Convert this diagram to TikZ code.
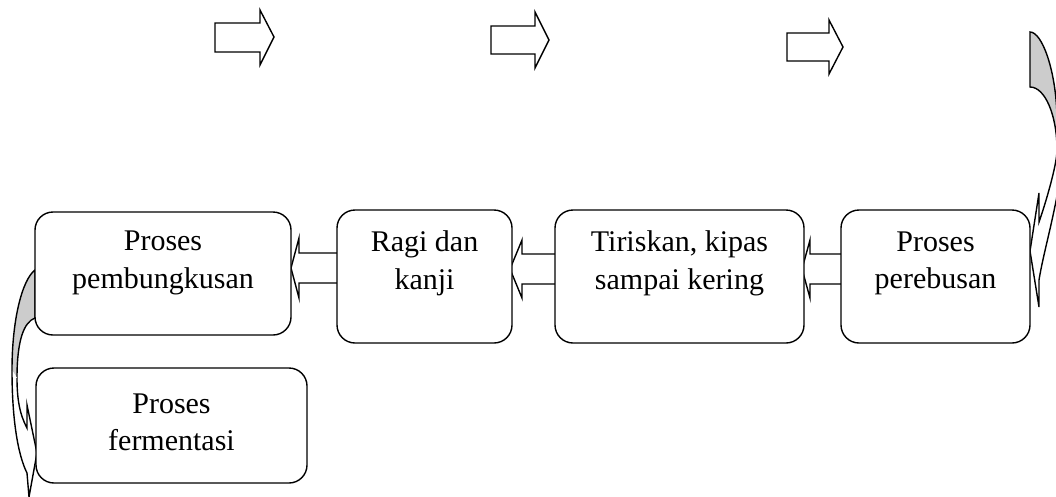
\documentclass[tikz,border=0pt]{standalone}
\usepackage{fontspec}
\setmainfont{Liberation Serif}
\pgfdeclarelayer{back}
\pgfsetlayers{back,main}
\definecolor{shade}{RGB}{204,204,204}
\begin{document}
\begin{tikzpicture}[x=1pt,y=-1pt,line width=1.4pt,
  box/.style={draw,line width=1.4pt,rounded corners=18pt,fill=white,inner sep=0pt},
  lbl/.style={align=center,inner sep=0pt,font=\fontsize{30}{37.5}\selectfont},
  blk/.style={draw,fill=white,line width=1.4pt,line join=miter},
  crvshade/.style={draw,fill=shade,line width=1.4pt,line join=miter}]
\useasboundingbox (0,0) rectangle (1056,496);
\clip (0,0) rectangle (1056,496);

% boxes
\node[box,minimum width=256pt,minimum height=123pt] (b1) at (163,273.5) {};
\node[box,minimum width=175pt,minimum height=133pt] (b2) at (424.5,276.5) {};
\node[box,minimum width=249pt,minimum height=133pt] (b3) at (679.5,276.5) {};
\node[box,minimum width=189pt,minimum height=133pt] (b4) at (935.5,276.5) {};
\node[box,minimum width=271pt,minimum height=115pt] (b5) at (171.5,425.5) {};

% texts
\node[lbl] (t1) at (163,263) {Proses\\pembungkusan};
\node[lbl] (t2) at (424.5,263.5) {Ragi dan\\kanji};
\node[lbl] (t3) at (679.5,263.5) {Tiriskan, kipas\\sampai kering};
\node[lbl] (t4) at (935.5,263.5) {Proses\\perebusan};
\node[lbl] (t5) at (171.5,422.5) {Proses\\fermentasi};

\begin{pgfonlayer}{back}
% top block arrows
\path[blk] (215,23) -- (260,23) -- (260,10) -- (274,37) -- (260,65) -- (260,52) -- (215,52) -- cycle;
\path[blk] (491,26) -- (535,26) -- (535,12) -- (549,40) -- (535,68) -- (535,54) -- (491,54) -- cycle;
\path[blk] (787,33) -- (829,33) -- (829,20) -- (843,47) -- (829,74) -- (829,61) -- (787,61) -- cycle;

% block arrows between boxes (pointing left)
\path[blk] (291,268) -- (299,238) -- (299,253) -- (339,253) -- (339,283) -- (299,283) -- (299,298) -- cycle;
\path[blk] (510,269) -- (522,240) -- (522,254) -- (557,254) -- (557,284) -- (522,284) -- (522,298) -- cycle;
\path[blk] (802,269) -- (810,240) -- (810,254) -- (843,254) -- (843,284) -- (810,284) -- (810,298) -- cycle;

% right curved arrow
\path[crvshade] (1057,150) .. controls (1057,115) and (1045,87) .. (1030,87) -- (1030,32) .. controls (1042,32) and (1056,70) .. (1057,117);
\path[blk] (1057,150) .. controls (1057,165) and (1045,205) .. (1039,222) -- (1039,193) -- (1030,251) -- (1039,307) -- (1039,280) .. controls (1043,255) and (1052,225) .. (1059,185);

% left curved arrow
\path[crvshade] (17,378) .. controls (17,340) and (24,322) .. (35,318) -- (35,270) .. controls (22,280) and (12,320) .. (12,370);
\path[blk] (12,370) .. controls (12,420) and (18,455) .. (27,473) -- (29,497) -- (37,453) -- (27,405) -- (27,428) .. controls (20,415) and (17,400) .. (17,378);
\end{pgfonlayer}
\end{tikzpicture}
\end{document}
